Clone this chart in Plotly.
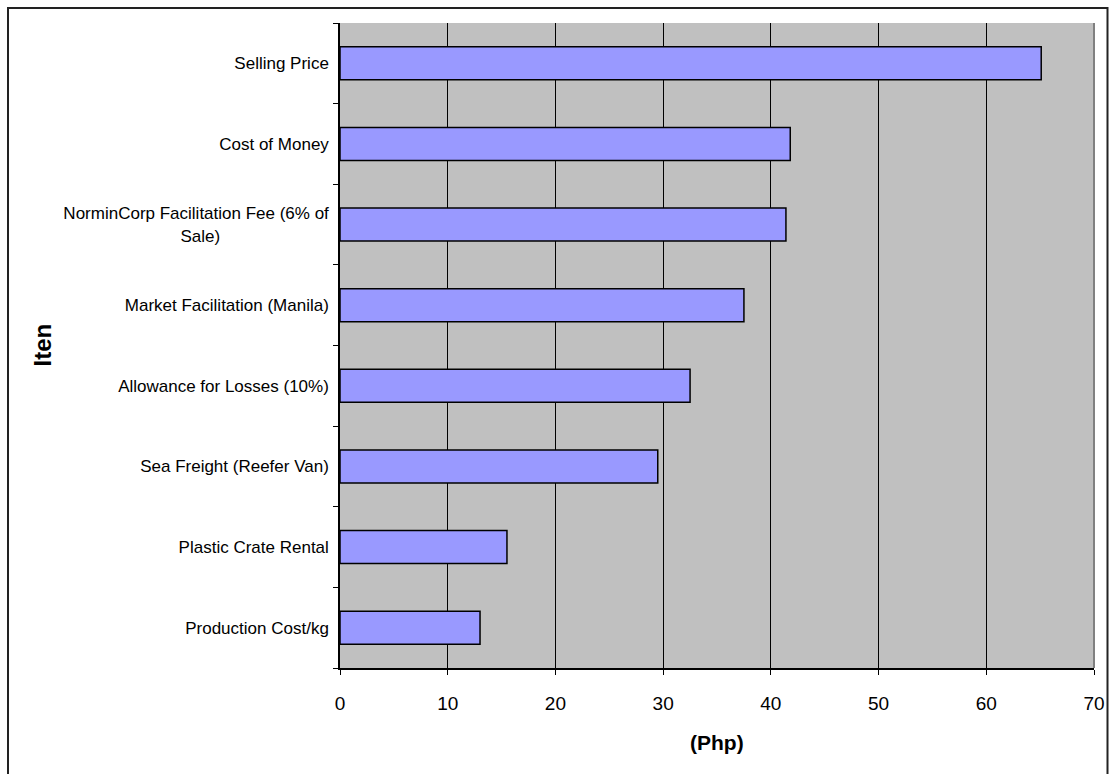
import plotly.graph_objects as go

NB = "\u00a0"
categories = [
    "Production Cost/kg",
    "Plastic Crate Rental",
    "Sea Freight (Reefer Van)",
    "Allowance for Losses (10%)",
    "Market Facilitation (Manila)",
    "NorminCorp Facilitation Fee (6% of<br>Sale)" + NB * 23,
    "Cost of Money",
    "Selling Price",
]
values = [13.0, 15.5, 29.5, 32.5, 37.5, 41.4, 41.8, 65.1]
x_ticks = [0, 10, 20, 30, 40, 50, 60, 70]
x_title = "(Php)"
y_title = "Iten"

W, H = 1109, 774
L, R, T, B = 340, 15, 23, 106
pw, ph = W - L - R, H - T - B
FONT = "Liberation Sans"

fig = go.Figure(go.Bar(
    y=categories, x=values, orientation="h",
    marker=dict(color="#9999FF", line=dict(color="#000000", width=1.5)),
))

def px2paper_x(p):
    return (p - L) / pw

def py2paper_y(p):
    return (H - B - p) / ph

fig.update_layout(
    width=W, height=H,
    margin=dict(l=L, r=R, t=T, b=B, autoexpand=False),
    paper_bgcolor="white",
    plot_bgcolor="#C0C0C0",
    bargap=0.59,
    showlegend=False,
    font=dict(family=FONT, color="black"),
    xaxis=dict(
        range=[0, 70], tickvals=x_ticks, ticktext=[str(v) for v in x_ticks],
        showgrid=True, gridcolor="black", gridwidth=1,
        showline=True, linecolor="black", linewidth=1.5,
        ticks="outside", ticklen=5, tickcolor="black",
        tickfont=dict(size=19, family=FONT), ticklabelstandoff=12,
        automargin=False, zeroline=False, fixedrange=True,
    ),
    yaxis=dict(
        type="category", categoryorder="array", categoryarray=categories,
        showgrid=False,
        showline=True, linecolor="black", linewidth=1.5,
        ticks="outside", ticklen=5, tickcolor="black", tickson="boundaries",
        tickfont=dict(size=17, family=FONT), ticklabelstandoff=6,
        automargin=False, fixedrange=True,
    ),
    annotations=[
        dict(text="<b>" + x_title + "</b>", xref="paper", yref="paper",
             x=0.5, y=py2paper_y(742), xanchor="center", yanchor="middle",
             showarrow=False, font=dict(size=21, family=FONT, color="black")),
        dict(text="<b>" + y_title + "</b>", xref="paper", yref="paper",
             x=px2paper_x(42), y=0.5, xanchor="center", yanchor="middle",
             textangle=-90, showarrow=False,
             font=dict(size=24, family=FONT, color="black")),
    ],
    shapes=[
        dict(type="rect", xref="paper", yref="paper",
             x0=px2paper_x(8), x1=px2paper_x(1107.5), y0=py2paper_y(790), y1=py2paper_y(8),
             line=dict(color="#222222", width=2), fillcolor="rgba(0,0,0,0)", layer="below"),
        dict(type="line", xref="paper", yref="paper",
             x0=1.0, x1=1.0, y0=0, y1=1,
             line=dict(color="#808080", width=2)),
    ],
)

fig.write_html("out.html")
